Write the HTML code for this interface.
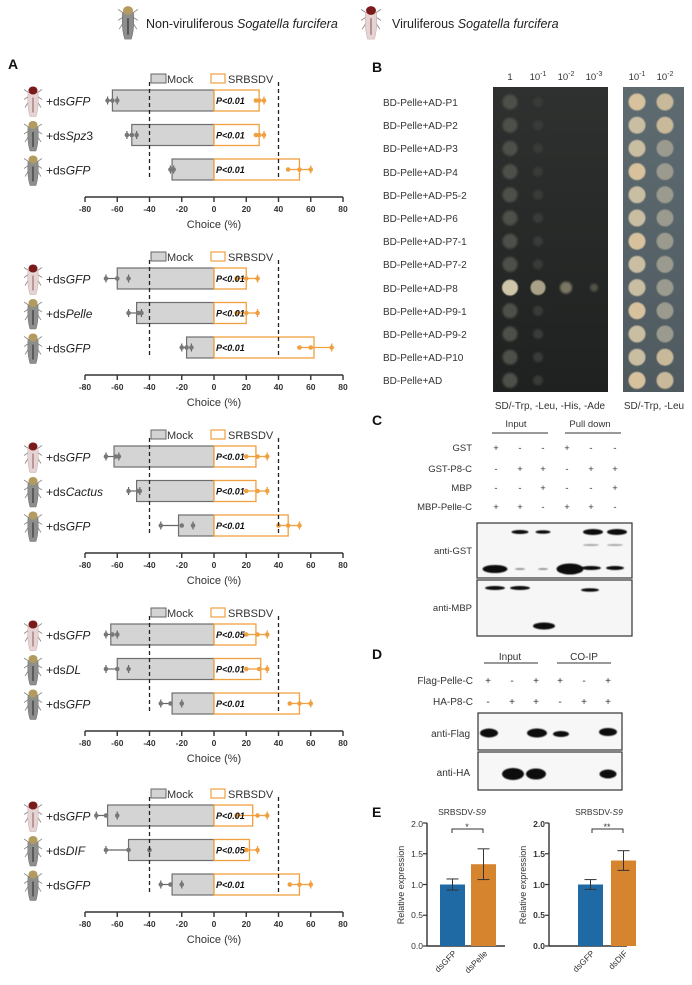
<!DOCTYPE html>
<html><head><meta charset="utf-8"><style>
html,body{margin:0;padding:0;background:#fff;}
svg{display:block;font-family:"Liberation Sans",Arial,sans-serif;}
.lb{font-size:12px;fill:#222}
.lg{font-size:11px;fill:#333}
.pv{font-size:9px;font-weight:bold;font-style:italic;fill:#111}
.tk{font-size:8.5px;font-weight:bold;fill:#333;text-anchor:middle}
.ch{font-size:11px;fill:#333;text-anchor:middle}
.pn{font-size:14px;font-weight:bold;fill:#111}
.sm{font-size:9.5px;fill:#333}
.bl{font-size:10px;fill:#333}
</style></head><body>
<svg id="s" width="692" height="985" viewBox="0 0 692 985" xmlns="http://www.w3.org/2000/svg">
<defs>
<filter id="bl1" x="-50%" y="-50%" width="200%" height="200%"><feGaussianBlur stdDeviation="1"/></filter>
<filter id="bl2" x="-50%" y="-50%" width="200%" height="200%"><feGaussianBlur stdDeviation="0.6"/></filter>
<linearGradient id="plate" x1="0" y1="0" x2="0" y2="1"><stop offset="0" stop-color="#2f3130"/><stop offset="1" stop-color="#1f2120"/></linearGradient>
<linearGradient id="plate2" x1="0" y1="0" x2="0" y2="1"><stop offset="0" stop-color="#5d6b71"/><stop offset="1" stop-color="#4f5a5f"/></linearGradient>
</defs>
<g id="gfx"></g>

<!-- header -->
<text x="146" y="28" style="font-size:12.5px" fill="#222">Non-viruliferous <tspan font-style="italic">Sogatella furcifera</tspan></text>
<text x="392" y="28" style="font-size:12.5px" fill="#222">Viruliferous <tspan font-style="italic">Sogatella furcifera</tspan></text>

<text class="pn" x="8" y="69">A</text>

<!-- chart 1 -->
<g transform="translate(0,197)">
<text class="lg" x="167" y="-114">Mock</text><text class="lg" x="228" y="-114">SRBSDV</text>
<text class="lb" x="46" y="-91.5">+ds<tspan font-style="italic">GFP</tspan></text>
<text class="lb" x="46" y="-57">+ds<tspan font-style="italic">Spz</tspan>3</text>
<text class="lb" x="46" y="-22.5">+ds<tspan font-style="italic">GFP</tspan></text>
<text class="pv" x="216" y="-93">P&lt;0.01</text><text class="pv" x="216" y="-58.5">P&lt;0.01</text><text class="pv" x="216" y="-24">P&lt;0.01</text>
<text class="tk" x="85" y="15">-80</text><text class="tk" x="117.3" y="15">-60</text><text class="tk" x="149.5" y="15">-40</text><text class="tk" x="181.8" y="15">-20</text><text class="tk" x="214" y="15">0</text><text class="tk" x="246.3" y="15">20</text><text class="tk" x="278.5" y="15">40</text><text class="tk" x="310.8" y="15">60</text><text class="tk" x="343" y="15">80</text>
<text class="ch" x="214" y="31">Choice (%)</text>
</g>
<!-- chart 2 -->
<g transform="translate(0,375)">
<text class="lg" x="167" y="-114">Mock</text><text class="lg" x="228" y="-114">SRBSDV</text>
<text class="lb" x="46" y="-91.5">+ds<tspan font-style="italic">GFP</tspan></text>
<text class="lb" x="46" y="-57">+ds<tspan font-style="italic">Pelle</tspan></text>
<text class="lb" x="46" y="-22.5">+ds<tspan font-style="italic">GFP</tspan></text>
<text class="pv" x="216" y="-93">P&lt;0.01</text><text class="pv" x="216" y="-58.5">P&lt;0.01</text><text class="pv" x="216" y="-24">P&lt;0.01</text>
<text class="tk" x="85" y="15">-80</text><text class="tk" x="117.3" y="15">-60</text><text class="tk" x="149.5" y="15">-40</text><text class="tk" x="181.8" y="15">-20</text><text class="tk" x="214" y="15">0</text><text class="tk" x="246.3" y="15">20</text><text class="tk" x="278.5" y="15">40</text><text class="tk" x="310.8" y="15">60</text><text class="tk" x="343" y="15">80</text>
<text class="ch" x="214" y="31">Choice (%)</text>
</g>
<!-- chart 3 -->
<g transform="translate(0,553)">
<text class="lg" x="167" y="-114">Mock</text><text class="lg" x="228" y="-114">SRBSDV</text>
<text class="lb" x="46" y="-91.5">+ds<tspan font-style="italic">GFP</tspan></text>
<text class="lb" x="46" y="-57">+ds<tspan font-style="italic">Cactus</tspan></text>
<text class="lb" x="46" y="-22.5">+ds<tspan font-style="italic">GFP</tspan></text>
<text class="pv" x="216" y="-93">P&lt;0.01</text><text class="pv" x="216" y="-58.5">P&lt;0.01</text><text class="pv" x="216" y="-24">P&lt;0.01</text>
<text class="tk" x="85" y="15">-80</text><text class="tk" x="117.3" y="15">-60</text><text class="tk" x="149.5" y="15">-40</text><text class="tk" x="181.8" y="15">-20</text><text class="tk" x="214" y="15">0</text><text class="tk" x="246.3" y="15">20</text><text class="tk" x="278.5" y="15">40</text><text class="tk" x="310.8" y="15">60</text><text class="tk" x="343" y="15">80</text>
<text class="ch" x="214" y="31">Choice (%)</text>
</g>
<!-- chart 4 -->
<g transform="translate(0,731)">
<text class="lg" x="167" y="-114">Mock</text><text class="lg" x="228" y="-114">SRBSDV</text>
<text class="lb" x="46" y="-91.5">+ds<tspan font-style="italic">GFP</tspan></text>
<text class="lb" x="46" y="-57">+ds<tspan font-style="italic">DL</tspan></text>
<text class="lb" x="46" y="-22.5">+ds<tspan font-style="italic">GFP</tspan></text>
<text class="pv" x="216" y="-93">P&lt;0.05</text><text class="pv" x="216" y="-58.5">P&lt;0.01</text><text class="pv" x="216" y="-24">P&lt;0.01</text>
<text class="tk" x="85" y="15">-80</text><text class="tk" x="117.3" y="15">-60</text><text class="tk" x="149.5" y="15">-40</text><text class="tk" x="181.8" y="15">-20</text><text class="tk" x="214" y="15">0</text><text class="tk" x="246.3" y="15">20</text><text class="tk" x="278.5" y="15">40</text><text class="tk" x="310.8" y="15">60</text><text class="tk" x="343" y="15">80</text>
<text class="ch" x="214" y="31">Choice (%)</text>
</g>
<!-- chart 5 -->
<g transform="translate(0,912)">
<text class="lg" x="167" y="-114">Mock</text><text class="lg" x="228" y="-114">SRBSDV</text>
<text class="lb" x="46" y="-91.5">+ds<tspan font-style="italic">GFP</tspan></text>
<text class="lb" x="46" y="-57">+ds<tspan font-style="italic">DIF</tspan></text>
<text class="lb" x="46" y="-22.5">+ds<tspan font-style="italic">GFP</tspan></text>
<text class="pv" x="216" y="-93">P&lt;0.01</text><text class="pv" x="216" y="-58.5">P&lt;0.05</text><text class="pv" x="216" y="-24">P&lt;0.01</text>
<text class="tk" x="85" y="15">-80</text><text class="tk" x="117.3" y="15">-60</text><text class="tk" x="149.5" y="15">-40</text><text class="tk" x="181.8" y="15">-20</text><text class="tk" x="214" y="15">0</text><text class="tk" x="246.3" y="15">20</text><text class="tk" x="278.5" y="15">40</text><text class="tk" x="310.8" y="15">60</text><text class="tk" x="343" y="15">80</text>
<text class="ch" x="214" y="31">Choice (%)</text>
</g>

<!-- Panel B -->
<text class="pn" x="372" y="72">B</text>
<g class="sm" text-anchor="middle">
<text x="510" y="80">1</text>
<text x="538" y="80">10<tspan dy="-4" font-size="7">-1</tspan></text>
<text x="566" y="80">10<tspan dy="-4" font-size="7">-2</tspan></text>
<text x="594" y="80">10<tspan dy="-4" font-size="7">-3</tspan></text>
<text x="637" y="80">10<tspan dy="-4" font-size="7">-1</tspan></text>
<text x="665" y="80">10<tspan dy="-4" font-size="7">-2</tspan></text>
</g>
<g class="bl">
<text x="383" y="106">BD-Pelle+AD-P1</text>
<text x="383" y="129">BD-Pelle+AD-P2</text>
<text x="383" y="152">BD-Pelle+AD-P3</text>
<text x="383" y="176">BD-Pelle+AD-P4</text>
<text x="383" y="199">BD-Pelle+AD-P5-2</text>
<text x="383" y="222">BD-Pelle+AD-P6</text>
<text x="383" y="245">BD-Pelle+AD-P7-1</text>
<text x="383" y="268">BD-Pelle+AD-P7-2</text>
<text x="383" y="292">BD-Pelle+AD-P8</text>
<text x="383" y="315">BD-Pelle+AD-P9-1</text>
<text x="383" y="338">BD-Pelle+AD-P9-2</text>
<text x="383" y="361">BD-Pelle+AD-P10</text>
<text x="383" y="384">BD-Pelle+AD</text>
</g>
<text class="bl" x="550" y="409" text-anchor="middle">SD/-Trp, -Leu, -His, -Ade</text>
<text class="bl" x="654" y="409" text-anchor="middle">SD/-Trp, -Leu</text>

<!-- Panel C -->
<text class="pn" x="372" y="425">C</text>
<text class="sm" x="516" y="427" text-anchor="middle">Input</text>
<text class="sm" x="590" y="427" text-anchor="middle">Pull down</text>
<g class="sm" text-anchor="end">
<text x="472" y="451">GST</text>
<text x="472" y="472">GST-P8-C</text>
<text x="472" y="491">MBP</text>
<text x="472" y="510">MBP-Pelle-C</text>
<text x="472" y="554">anti-GST</text>
<text x="472" y="611">anti-MBP</text>
</g>
<g class="sm" text-anchor="middle" id="cpm"></g>

<!-- Panel D -->
<text class="pn" x="372" y="659">D</text>
<text class="bl" x="510" y="660" text-anchor="middle">Input</text>
<text class="bl" x="584" y="660" text-anchor="middle">CO-IP</text>
<g class="bl" text-anchor="end">
<text x="473" y="684">Flag-Pelle-C</text>
<text x="473" y="705">HA-P8-C</text>
<text x="470" y="737">anti-Flag</text>
<text x="470" y="776">anti-HA</text>
</g>

<!-- Panel E -->
<text class="pn" x="372" y="817">E</text>
<text x="462" y="815" text-anchor="middle" style="font-size:8.5px" fill="#333">SRBSDV-<tspan font-style="italic">S9</tspan></text>
<text x="599" y="815" text-anchor="middle" style="font-size:8.5px" fill="#333">SRBSDV-<tspan font-style="italic">S9</tspan></text>
<g style="font-size:8.5px" fill="#333" text-anchor="end">
<text x="423" y="827">2.0</text><text x="423" y="857">1.5</text><text x="423" y="888">1.0</text><text x="423" y="918">0.5</text><text x="423" y="949">0.0</text>
</g>
<g style="font-size:8.5px;font-weight:bold" fill="#333" text-anchor="end">
<text x="545" y="827">2.0</text><text x="545" y="857">1.5</text><text x="545" y="888">1.0</text><text x="545" y="918">0.5</text><text x="545" y="949">0.0</text>
</g>
<text transform="translate(404,885) rotate(-90)" text-anchor="middle" style="font-size:9px" fill="#333">Relative expression</text>
<text transform="translate(526,885) rotate(-90)" text-anchor="middle" style="font-size:9px" fill="#333">Relative expression</text>
<g style="font-size:8.5px" fill="#333" text-anchor="end">
<text transform="translate(457,954) rotate(-45)">dsGFP</text>
<text transform="translate(488,954) rotate(-45)">dsPelle</text>
<text transform="translate(595,954) rotate(-45)">dsGFP</text>
<text transform="translate(628,954) rotate(-45)">dsDIF</text>
</g>
<text x="467" y="830" text-anchor="middle" style="font-size:9px" fill="#333">*</text>
<text x="607" y="830" text-anchor="middle" style="font-size:9px" fill="#333">**</text>
</svg>
<script>
(function(){
var NS="http://www.w3.org/2000/svg",G=document.getElementById("gfx");
function el(t,a,p){var e=document.createElementNS(NS,t);for(var k in a)e.setAttribute(k,a[k]);(p||G).appendChild(e);return e;}
function insect(cx,top,vir,sc){sc=sc||1;var g=el("g",{transform:"translate("+cx+","+top+") scale("+sc+")"});
 var body=vir?"#e6d3d3":"#8d8f8c",head=vir?"#7a1a1a":"#b39a5e",leg="#888";
 [[-3,8,-9,4],[-3,10,-9,14],[-3,14,-8,22],[3,8,9,4],[3,10,9,14],[3,14,8,22]].forEach(function(l){el("line",{x1:l[0],y1:l[1],x2:l[2],y2:l[3],stroke:leg,"stroke-width":0.8},g)});
 el("path",{d:"M-5,7 Q-6,22 -3,31 L3,31 Q6,22 5,7 Z",fill:body,stroke:vir?"#c9a9a9":"#6f716e","stroke-width":0.5},g);
 el("line",{x1:0,y1:12,x2:0,y2:27,stroke:vir?"#9a7070":"#3a3a3a","stroke-width":1.2},g);
 el("ellipse",{cx:0,cy:5,rx:4.5,ry:4,fill:head},g);
}
insect(128,5,false,1.1);insect(371,5,true,1.1);
var Z=214,S=1.6125;function X(v){return Z+v*S;}
var data=[
 {A:197,r:[[-63,28,[-66,-63,-60],[26,28,31]],[-51,28,[-54,-51,-48],[26,28,31]],[-26,53,[-27,-26,-25],[46,53,60]]]},
 {A:375,r:[[-60,20,[-67,-60,-53],[14,20,27]],[-48,20,[-53,-47,-45],[14,20,27]],[-17,62,[-20,-17,-14],[53,60,73]]]},
 {A:553,r:[[-62,26,[-67,-61,-59],[20,27,33]],[-48,26,[-53,-47,-46],[20,27,33]],[-22,46,[-33,-20,-13],[40,46,53]]]},
 {A:731,r:[[-64,26,[-67,-63,-60],[20,27,33]],[-60,29,[-67,-60,-53],[20,28,33]],[-26,53,[-33,-27,-20],[47,53,60]]]},
 {A:912,r:[[-66,24,[-73,-67,-60],[14,27,33]],[-53,22,[-67,-53,-40],[20,20,27]],[-26,53,[-33,-27,-20],[47,53,60]]]}];
data.forEach(function(c){var A=c.A;
 el("rect",{x:151,y:A-123,width:15,height:9,fill:"#d3d3d3",stroke:"#666","stroke-width":1});
 el("rect",{x:211,y:A-123,width:14,height:9,fill:"#fff",stroke:"#f0a040","stroke-width":1.2});
 var cy=[-96.5,-62,-27.5];
 c.r.forEach(function(r,i){var y=A+cy[i];
  el("rect",{x:X(r[0]),y:y-10.5,width:-r[0]*S,height:21,fill:"#d4d4d4",stroke:"#6e6e6e","stroke-width":1.2});
  el("rect",{x:Z,y:y-10.5,width:r[1]*S,height:21,fill:"#fff",stroke:"#f0a040","stroke-width":1.3});
  var m=r[2];el("line",{x1:X(m[0]),y1:y,x2:X(r[0]),y2:y,stroke:"#666","stroke-width":1.2});
  el("line",{x1:X(m[0]),y1:y-4,x2:X(m[0]),y2:y+4,stroke:"#666","stroke-width":1.2});
  el("line",{x1:X(m[2]),y1:y-4,x2:X(m[2]),y2:y+4,stroke:"#666","stroke-width":1.2});
  m.forEach(function(v){el("circle",{cx:X(v),cy:y,r:2.3,fill:"#777"});});
  var s=r[3];el("line",{x1:X(r[1]),y1:y,x2:X(s[2]),y2:y,stroke:"#f0a040","stroke-width":1.3});
  el("line",{x1:X(s[0]),y1:y,x2:X(r[1]),y2:y,stroke:"#f0a040","stroke-width":1.3});
  el("line",{x1:X(s[2]),y1:y-4,x2:X(s[2]),y2:y+4,stroke:"#f0a040","stroke-width":1.3});
  s.forEach(function(v){el("circle",{cx:X(v),cy:y,r:2.3,fill:"#f0a040"});});
  insect(33,y-15,i==0,1);
 });
 [-40,40].forEach(function(v){el("line",{x1:X(v),y1:A-115,x2:X(v),y2:A-17,stroke:"#222","stroke-width":1.3,"stroke-dasharray":"4,3"});});
 el("line",{x1:85,y1:A,x2:343,y2:A,stroke:"#333","stroke-width":1.6});
 for(var v=-80;v<=80;v+=20)el("line",{x1:X(v),y1:A,x2:X(v),y2:A+5,stroke:"#333","stroke-width":1.4});
});
// Panel B plates
el("rect",{x:493,y:87,width:115,height:305,fill:"url(#plate)"});
el("rect",{x:623,y:87,width:61,height:305,fill:"url(#plate2)"});
for(var i=0;i<13;i++){var y=102+i*23.2;
 if(i==8){el("circle",{cx:510,cy:y,r:8,fill:"#cfc6aa",filter:"url(#bl2)"});el("circle",{cx:538,cy:y,r:7.5,fill:"#a9a288",filter:"url(#bl2)"});
   el("circle",{cx:566,cy:y,r:6,fill:"#7a7664",filter:"url(#bl1)"});el("circle",{cx:594,cy:y,r:4,fill:"#55534a",filter:"url(#bl1)"});}
 else{el("circle",{cx:510,cy:y,r:7.5,fill:"#4e4f48",filter:"url(#bl1)"});el("circle",{cx:538,cy:y,r:5,fill:"#393b38",filter:"url(#bl1)"});}
 el("circle",{cx:637,cy:y,r:8.5,fill:i%3==0?"#d8c29e":"#c9bda2",filter:"url(#bl2)"});
 el("circle",{cx:665,cy:y,r:8.5,fill:i<2||i>10?"#c8b99a":"#9a9a8e",filter:"url(#bl2)"});
}
// Panel C
el("line",{x1:492,y1:433,x2:548,y2:433,stroke:"#333","stroke-width":1});
el("line",{x1:565,y1:433,x2:621,y2:433,stroke:"#333","stroke-width":1});
var LC=[496,520,543,567,591,615],P=document.getElementById("cpm");
var pm=[["+","-","-","+","-","-"],["-","+","+","-","+","+"],["-","-","+","-","-","+"],["+","+","-","+","+","-"]],py=[451,472,491,510];
pm.forEach(function(r,j){r.forEach(function(s,k){var t=el("text",{x:LC[k],y:py[j]},P);t.textContent=s;});});
el("rect",{x:477,y:523,width:155,height:55,fill:"#f6f6f6",stroke:"#333","stroke-width":1.2});
el("rect",{x:477,y:580,width:155,height:56,fill:"#f6f6f6",stroke:"#333","stroke-width":1.2});
function band(cx,cy,w,h,c){el("ellipse",{cx:cx,cy:cy,rx:w/2,ry:h/2,fill:c||"#111",filter:"url(#bl2)"});}
band(495,569,25,8);band(520,569,10,2,"#999");band(543,569,10,2,"#999");band(570,569,27,11);band(591,568,20,4);band(615,568,18,4);
band(520,532,17,4);band(543,532,15,3.5);band(593,532,20,6);band(617,532,20,6);band(591,545,16,2,"#aaa");band(615,545,16,2,"#aaa");
band(495,588,20,4);band(520,588,20,4);band(590,590,18,3.5);band(544,626,22,7);
// Panel D
el("line",{x1:484,y1:663,x2:538,y2:663,stroke:"#333","stroke-width":1});
el("line",{x1:557,y1:663,x2:611,y2:663,stroke:"#333","stroke-width":1});
var LD=[488,512,536,560,584,608];
var dm=[["+","-","+","+","-","+"],["-","+","+","-","+","+"]];
dm.forEach(function(r,j){r.forEach(function(s,k){var t=el("text",{x:LD[k],y:[684,705][j],"text-anchor":"middle","font-size":"10",fill:"#333"});t.textContent=s;});});
el("rect",{x:478,y:713,width:144,height:37,fill:"#f7f7f7",stroke:"#333","stroke-width":1.2});
el("rect",{x:478,y:752,width:144,height:38,fill:"#f7f7f7",stroke:"#333","stroke-width":1.2});
band(489,733,18,9);band(537,733,20,9);band(561,734,16,6);band(608,732,18,8);
band(513,774,22,12);band(536,774,20,11);band(608,774,17,9);
// Panel E
function chartE(ax,b1,b2,h1,e1,e2,br1,br2){
 var Y=function(v){return 946-v*61.5;};
 el("line",{x1:ax,y1:823,x2:ax,y2:946,stroke:"#333","stroke-width":1.4});
 el("line",{x1:ax,y1:946,x2:ax+78,y2:946,stroke:"#333","stroke-width":1.4});
 [0,0.5,1,1.5,2].forEach(function(v){el("line",{x1:ax-4,y1:Y(v),x2:ax,y2:Y(v),stroke:"#333","stroke-width":1.2});});
 el("rect",{x:b1,y:Y(1),width:25,height:61.5,fill:"#1f6aa5"});
 el("rect",{x:b2,y:Y(h1),width:25,height:h1*61.5,fill:"#d7842f"});
 [[b1+12.5,1,e1],[b2+12.5,h1,e2]].forEach(function(e){el("line",{x1:e[0],y1:Y(e[1]-e[2]),x2:e[0],y2:Y(e[1]+e[2]),stroke:"#333","stroke-width":1});
  el("line",{x1:e[0]-6,y1:Y(e[1]+e[2]),x2:e[0]+6,y2:Y(e[1]+e[2]),stroke:"#333","stroke-width":1});
  el("line",{x1:e[0]-6,y1:Y(e[1]-e[2]),x2:e[0]+6,y2:Y(e[1]-e[2]),stroke:"#333","stroke-width":1});});
 el("path",{d:"M"+br1+",833 V829 H"+br2+" V833",fill:"none",stroke:"#333","stroke-width":1});
}
chartE(427,440,471,1.33,0.09,0.25,452,483);
chartE(549,578,611,1.39,0.08,0.16,592,623);
})();
</script>
</body></html>
